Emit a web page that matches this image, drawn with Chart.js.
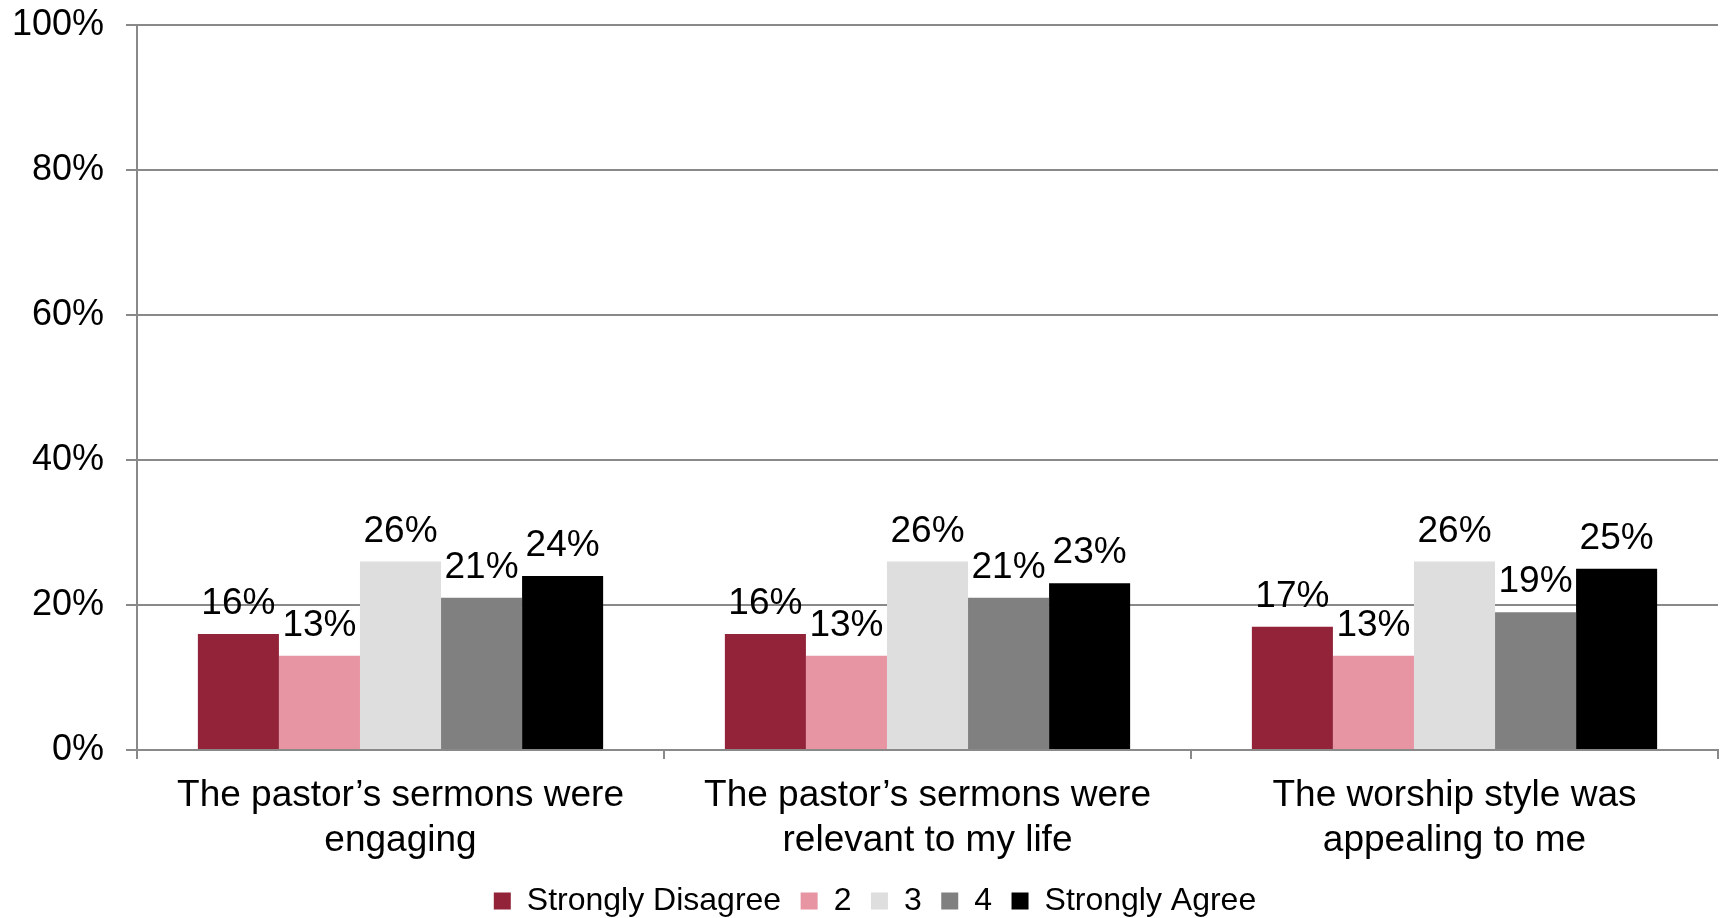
<!DOCTYPE html>
<html>
<head>
<meta charset="utf-8">
<script src="https://cdn.jsdelivr.net/npm/chart.js@4"></script>
<style>
  html, body { margin: 0; padding: 0; background: #ffffff; }
  #wrap { width: 1723px; height: 918px; }
</style>
</head>
<body>
<div id="wrap"><canvas id="c" width="1723" height="918"></canvas></div>
<script>
const categories = [
  ["The pastor\u2019s sermons were", "engaging"],
  ["The pastor\u2019s sermons were", "relevant to my life"],
  ["The worship style was", "appealing to me"]
];
const seriesNames = ["Strongly Disagree", "2", "3", "4", "Strongly Agree"];
const stronglyDisagree = [16, 16, 17];
const two = [13, 13, 13];
const three = [26, 26, 26];
const four = [21, 21, 19];
const stronglyAgree = [24, 23, 25];
const yTicks = [0, 20, 40, 60, 80, 100];

const seriesValues = [stronglyDisagree, two, three, four, stronglyAgree];
const seriesColors = ["#922339", "#E795A3", "#DEDEDE", "#808080", "#000000"];

const FONT = "'Liberation Sans', Arial, Helvetica, sans-serif";
Chart.defaults.font.family = FONT;
Chart.defaults.color = "#000000";

const gridColor = "#898989";

const valueLabels = {
  id: "valueLabels",
  afterDatasetsDraw(chart) {
    const ctx = chart.ctx;
    ctx.save();
    ctx.font = "37px " + FONT;
    ctx.fillStyle = "#000000";
    ctx.textAlign = "center";
    ctx.textBaseline = "alphabetic";
    chart.data.datasets.forEach((ds, di) => {
      const meta = chart.getDatasetMeta(di);
      meta.data.forEach((bar, i) => {
        ctx.fillText(ds.data[i] + "%", bar.x, bar.y - 20);
      });
    });
    ctx.restore();
  }
};

const legendShift = {
  id: "legendShift",
  afterLayout(chart) {
    if (chart.legend) {
      chart.legend.left = 32;
    }
  }
};

new Chart(document.getElementById("c"), {
  type: "bar",
  data: {
    labels: categories,
    datasets: seriesNames.map((name, i) => ({
      label: name,
      data: seriesValues[i],
      backgroundColor: seriesColors[i],
      borderWidth: 0,
      categoryPercentage: 0.769,
      barPercentage: 1.0
    }))
  },
  options: {
    responsive: false,
    animation: false,
    layout: { padding: { left: 0, right: 5, top: 25, bottom: -9 } },
    plugins: {
      legend: {
        position: "bottom",
        labels: {
          boxWidth: 17,
          boxHeight: 17,
          padding: 19.5,
          color: "#000000",
          font: { size: 32, family: FONT }
        }
      },
      tooltip: { enabled: false }
    },
    scales: {
      x: {
        afterFit(scale) { scale.height = 115.5; },
        grid: {
          display: true,
          drawOnChartArea: false,
          drawTicks: true,
          tickLength: 9,
          color: gridColor,
          lineWidth: 2
        },
        border: { display: true, color: gridColor, width: 2 },
        ticks: {
          color: "#000000",
          font: { size: 37, family: FONT, lineHeight: 1.2 },
          padding: 15,
          maxRotation: 0,
          minRotation: 0,
          autoSkip: false
        }
      },
      y: {
        min: 0,
        max: 100,
        afterFit(scale) {
          scale.width = 137;
          scale.paddingTop = 0;
          scale.paddingBottom = 0;
        },
        afterBuildTicks(scale) { scale.ticks = yTicks.map(v => ({ value: v })); },
        grid: {
          color: gridColor,
          lineWidth: 2,
          drawTicks: true,
          tickLength: 11
        },
        border: { display: true, color: gridColor, width: 2 },
        ticks: {
          color: "#000000",
          font: { size: 36, family: FONT },
          padding: 22,
          callback: (v) => v + "%"
        }
      }
    }
  },
  plugins: [valueLabels, legendShift]
});
</script>
</body>
</html>
